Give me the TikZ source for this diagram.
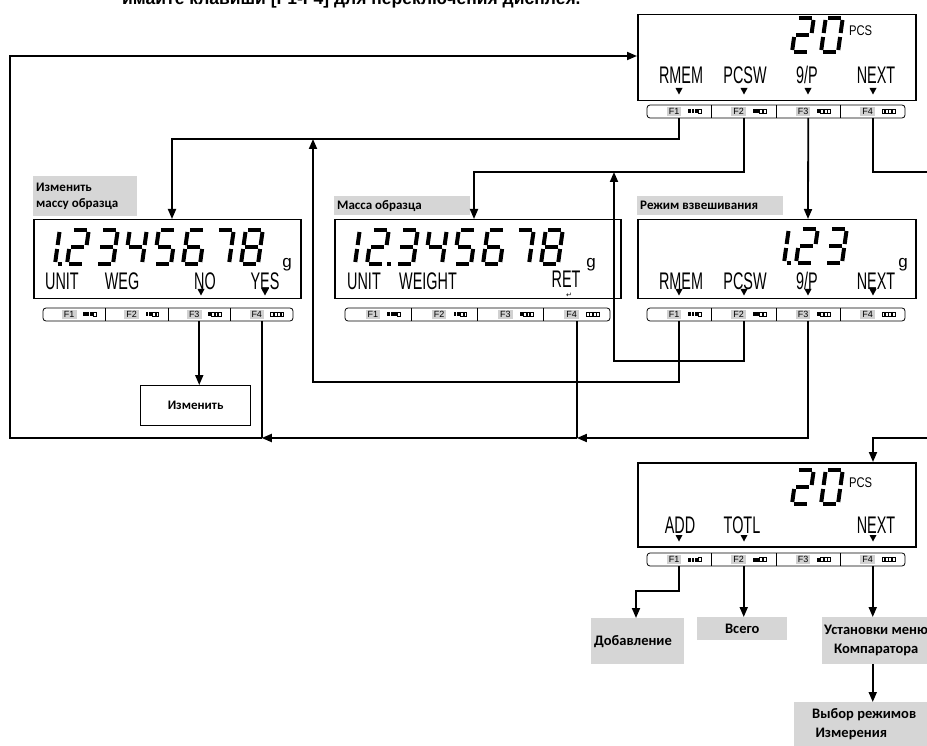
\documentclass[tikz,border=0pt]{standalone}
\usepackage{fontspec}
\setmainfont{Liberation Sans}
\newfontfamily\lblfont{Carlito}
\newfontfamily\symfont{DejaVu Sans}
\usetikzlibrary{arrows.meta,calc}

\tikzset{
  conn/.style={line width=1.8pt},
  arr/.style={line width=1.8pt,-{Triangle[length=10pt,width=8pt]}},
  dispbox/.style={draw,line width=1.5pt,inner sep=0pt,anchor=north west},
  graylbl/.style={fill=black!16,font=\lblfont\bfseries\fontsize{13}{16}\selectfont,inner sep=3pt,anchor=north west},
  graybig/.style={graylbl,font=\lblfont\bfseries\fontsize{14.5}{19}\selectfont},
  softkey/.style={font=\fontsize{24}{24}\selectfont,xscale=0.6,inner sep=0pt},
  seg/.style={line width=4pt,line cap=butt},
  unitg/.style={font=\fontsize{17}{17}\selectfont,inner sep=0pt},
  pcs/.style={font=\fontsize{14}{14}\selectfont,xscale=0.8,inner sep=0pt},
}

\newcommand\SEGa{\draw[seg] (2,34)--(15,34);}
\newcommand\SEGb{\draw[seg] (17,32)--(17,19);}
\newcommand\SEGc{\draw[seg] (17,15)--(17,2);}
\newcommand\SEGd{\draw[seg] (2,0)--(15,0);}
\newcommand\SEGe{\draw[seg] (0,2)--(0,15);}
\newcommand\SEGf{\draw[seg] (0,19)--(0,32);}
\newcommand\SEGg{\draw[seg] (2,17)--(15,17);}
\newcommand\dgzero{a,b,c,d,e,f}
\newcommand\dgone{b,c}
\newcommand\dgtwo{a,b,g,e,d}
\newcommand\dgthree{a,b,g,c,d}
\newcommand\dgfour{f,g,b,c}
\newcommand\dgfive{a,f,g,c,d}
\newcommand\dgsix{a,f,g,e,c,d}
\newcommand\dgseven{a,b,c}
\newcommand\dgeight{a,b,c,d,e,f,g}
\newcommand\sevdig[3]{\begin{scope}[shift={(#1,#2)}]\begin{scope}[y=1pt,xslant=0.14]\foreach \s in #3{\csname SEG\s\endcsname}\end{scope}\end{scope}}
\newcommand\dpt[2]{\fill (#1,#2+2) rectangle ++(4,-4);}
\newcommand\tri[2]{\fill (#1-3.5,#2-3) -- (#1+3.5,#2-3) -- (#1,#2+3.5) -- cycle;}

% key bar: #1 name prefix, #2 x0, #3 y0, #4 width
\newcommand\keybar[4]{%
  \draw[line width=0.8pt,rounded corners=3pt] (#2,#3) rectangle ++(#4,13);
  \foreach \i/\nf in {1/3,2/2,3/1,4/0}{%
    \pgfmathsetmacro\sw{#4/4}%
    \pgfmathsetmacro\xs{#2+(\i-1)*\sw}%
    \ifnum\i>1 \draw[line width=0.8pt] (\xs,#3) -- ++(0,13);\fi
    \node[fill=black!18,inner xsep=2pt,inner ysep=1pt,font=\fontsize{9}{9}\selectfont] (#1k\i) at (\xs+0.42*\sw,#3+6.5) {F\i};
    \foreach \j in {1,2,3,4}{%
      \ifnum\j>\nf
        \draw[line width=0.4pt] (\xs+0.64*\sw+\j*3.4-3.4,#3+4.5) rectangle ++(2.8,4);
      \else
        \fill (\xs+0.64*\sw+\j*3.4-3.4,#3+4.5) rectangle ++(2.8,4);
      \fi}
    \coordinate (#1f\i) at (\xs+0.5*\sw,#3+13);
  }}

\begin{document}
\begin{tikzpicture}[x=1pt,y=-1pt]
\useasboundingbox (0,0) rectangle (927,746);
\clip (0,0) rectangle (927,746);

% title (top cut off)
\node[anchor=base west,inner sep=0pt,font=\bfseries\fontsize{17.5}{17.5}\selectfont] (title) at (122,5) {имайте клавиши [F1-F4] для переключения дисплея.};

% ---------- top display D0 ----------
\node[dispbox,minimum width=278,minimum height=86] (d0) at (637,14) {};
\sevdig{792}{52}{\dgtwo}\sevdig{821}{52}{\dgzero}
\node[pcs,anchor=west] (d0u) at (849,31) {PCS};
\node[softkey] (d0s1) at (681,75) {RMEM};
\node[softkey] (d0s2) at (745,75) {PCSW};
\node[softkey] (d0s3) at (807,75) {9/P};
\node[softkey] (d0s4) at (876,75) {NEXT};
\tri{679}{91}\tri{744}{91}\tri{808}{91}\tri{873}{91}
\keybar{d0}{647}{105}{258}

% ---------- left display D1 ----------
\node[graylbl,text width=98,minimum height=40,align=flush left] (l1) at (33,176) {Изменить\\массу образца};
\node[dispbox,minimum width=267,minimum height=79] (d1) at (33,219) {};
\sevdig{38}{264}{\dgone}\dpt{58}{264}
\sevdig{67}{264}{\dgtwo}\sevdig{96}{264}{\dgthree}\sevdig{125}{264}{\dgfour}
\sevdig{154}{264}{\dgfive}\sevdig{183}{264}{\dgsix}\sevdig{212}{264}{\dgseven}\sevdig{241}{264}{\dgeight}
\node[unitg] (d1u) at (287,265) {g};
\node[softkey] (d1s1) at (62,281) {UNIT};
\node[softkey] (d1s2) at (122,281) {WEG};
\node[softkey] (d1s3) at (205,281) {NO};
\node[softkey] (d1s4) at (265,281) {YES};
\tri{201}{292}\tri{265}{292}
\keybar{d1}{43}{308}{250}

% ---------- middle display D2 ----------
\node[graylbl,text width=130,minimum height=19,align=flush left] (l2) at (334,196) {Масса образца};
\node[dispbox,minimum width=286,minimum height=79] (d2) at (334,219) {};
\sevdig{338}{264}{\dgone}\sevdig{367}{264}{\dgtwo}\dpt{387}{264}
\sevdig{396}{264}{\dgthree}\sevdig{425}{264}{\dgfour}\sevdig{454}{264}{\dgfive}
\sevdig{483}{264}{\dgsix}\sevdig{512}{264}{\dgseven}\sevdig{541}{264}{\dgeight}
\node[unitg] (d2u) at (591,265) {g};
\node[softkey] (d2s1) at (364,281) {UNIT};
\node[softkey] (d2s2) at (428,281) {WEIGHT};
\node[softkey] (d2s4) at (566,279) {RET};
\node[inner sep=0pt,font=\symfont\fontsize{7}{7}\selectfont] (d2r) at (569,295) {↵};
\keybar{d2}{345}{308}{265}

% ---------- right display D3 ----------
\node[graylbl,text width=140,minimum height=19,align=flush left] (l3) at (637,196) {Режим взвешивания};
\node[dispbox,minimum width=278,minimum height=79] (d3) at (637,219) {};
\sevdig{767}{263}{\dgone}\dpt{787}{263}\sevdig{796}{263}{\dgtwo}\sevdig{825}{263}{\dgthree}
\node[unitg] (d3u) at (903,265) {g};
\node[softkey] (d3s1) at (681,281) {RMEM};
\node[softkey] (d3s2) at (745,281) {PCSW};
\node[softkey] (d3s3) at (807,281) {9/P};
\node[softkey] (d3s4) at (876,281) {NEXT};
\tri{679}{292}\tri{744}{292}\tri{808}{292}\tri{873}{292}
\keybar{d3}{647}{308}{258}

% ---------- bottom display D4 ----------
\node[dispbox,minimum width=278,minimum height=84] (d4) at (637,462) {};
\sevdig{792}{504}{\dgtwo}\sevdig{821}{504}{\dgzero}
\node[pcs,anchor=west] (d4u) at (849,483) {PCS};
\node[softkey] (d4s1) at (680,525) {ADD};
\node[softkey] (d4s2) at (742,525) {TOTL};
\node[softkey] (d4s4) at (876,525) {NEXT};
\tri{679}{538}\tri{744}{538}\tri{873}{538}
\keybar{d4}{647}{553}{258}

% ---------- result boxes ----------
\node[draw,line width=1.2pt,minimum width=110,minimum height=40,anchor=north west,font=\lblfont\bfseries\fontsize{13}{16}\selectfont] (izm) at (140,385) {Изменить};
\node[graybig,text width=87,minimum height=46,align=flush left] (add) at (591,618) {Добавление};
\node[graybig,minimum width=90,minimum height=23,align=center] (tot) at (697,617) {Всего};
\node[graybig,minimum height=47,align=center,inner xsep=2pt] (cmp) at (822,617) {Установки меню\\Компаратора};
\node[graybig,minimum width=140,minimum height=44,align=flush left] (msr) at (794,702) {Выбор режимов\\\ Измерения};

% ---------- coordinates ----------
\coordinate (h1) at (172,139);
\coordinate (d1in) at (172,219);
\coordinate (h2) at (474,172);
\coordinate (d2in) at (474,219);
\coordinate (d3in) at (808,219);
\coordinate (h4) at (927,172);
\coordinate (e4) at (927,438);
\coordinate (d4in) at (873,462);
\coordinate (u1) at (313,139);
\coordinate (u1b) at (313,382);
\coordinate (u2) at (614,172);
\coordinate (u2b) at (614,361);
\coordinate (j2) at (d2f4 |- 0,438);
\coordinate (j1) at (d1f4 |- 0,438);
\coordinate (cbl) at (10,438);
\coordinate (d0in) at (637,56);
\coordinate (b1) at (636,591);

% ---------- connectors ----------
\draw[arr] (d0f1) |- (h1) -- (d1in);
\draw[arr] (d0f2) |- (h2) -- (d2in);
\draw[arr] (d0f3) -- (d3in);
\draw[conn] (d0f4) |- (h4);
\draw[arr] (e4) -| (d4in);
\draw[arr] (d3f1) |- (u1b) -- (u1);
\draw[arr] (d3f2) |- (u2b) -- (u2);
\draw[arr] (d3f3) |- (j2);
\draw[conn] (d2f4) -- (j2);
\draw[arr] (j2) -- (j1);
\draw[conn] (d1f4) -- (j1);
\draw[arr] (j1) -- (cbl) |- (d0in);
\draw[arr] (d1f3) -- (izm.north -| d1f3);
\draw[arr] (d4f1) |- (b1) -- (add.north -| b1);
\draw[arr] (d4f2) -- (tot.north -| d4f2);
\draw[arr] (d4f4) -- (cmp.north -| d4f4);
\draw[arr] (cmp.south -| d4f4) -- (msr.north -| d4f4);
\end{tikzpicture}
\end{document}
